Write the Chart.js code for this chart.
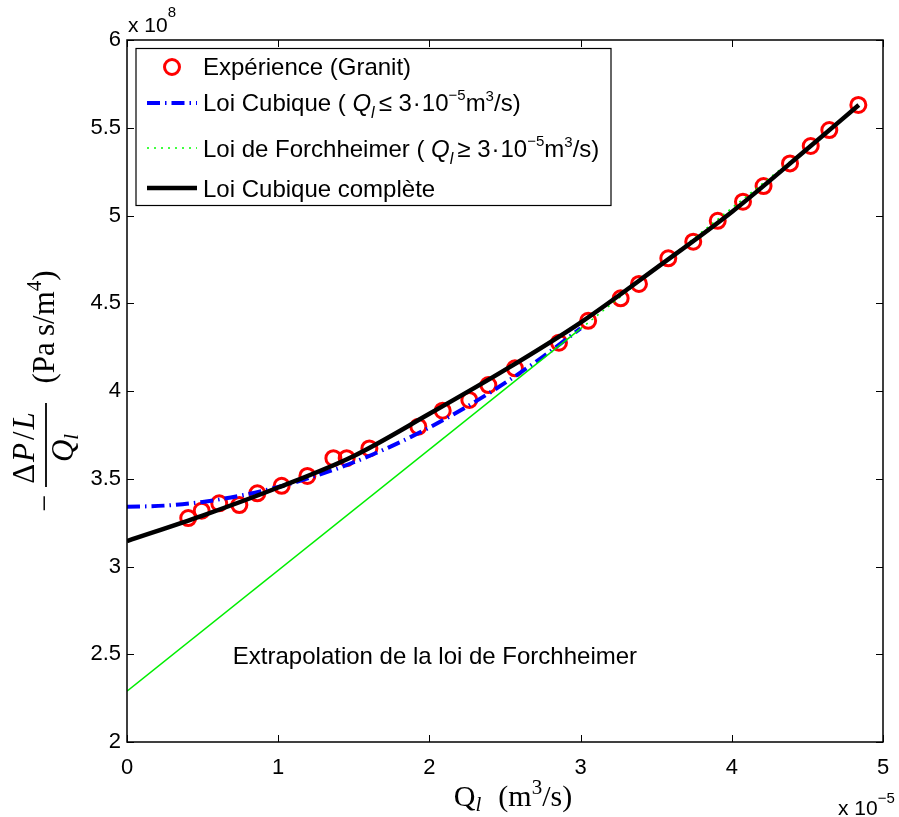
<!DOCTYPE html>
<html>
<head>
<meta charset="utf-8">
<script src="https://cdn.jsdelivr.net/npm/chart.js@4.4.1/dist/chart.umd.min.js"></script>
<style>
  html, body { margin: 0; padding: 0; background: #fff; }
  #wrap { width: 899px; height: 817px; position: relative; }
</style>
</head>
<body>
<div id="wrap"><canvas id="c" width="899" height="817"></canvas></div>
<script>
// Values in displayed units: Q in 1e-5 m^3/s, -(dP/L)/Q in 1e8 Pa s/m^4
const Q_exp   = [0.405, 0.494, 0.61, 0.743, 0.862, 1.023, 1.193, 1.365, 1.453, 1.603, 1.927, 2.088, 2.264, 2.39, 2.566, 2.857, 3.05, 3.265, 3.386, 3.58, 3.745, 3.907, 4.074, 4.21, 4.385, 4.522, 4.645, 4.837];
const R_exp   = [3.276, 3.318, 3.36, 3.35, 3.417, 3.46, 3.516, 3.617, 3.617, 3.673, 3.797, 3.888, 3.949, 4.034, 4.129, 4.275, 4.40, 4.528, 4.61, 4.756, 4.851, 4.97, 5.079, 5.168, 5.297, 5.396, 5.487, 5.63];

const Q_cub   = [0, 0.25, 0.5, 0.75, 1.0, 1.25, 1.5, 1.75, 2.0, 2.25, 2.5, 2.75, 3.0];
const R_cub   = [3.34, 3.347, 3.368, 3.404, 3.453, 3.517, 3.594, 3.686, 3.792, 3.912, 4.046, 4.195, 4.357];

const Q_forch = [3.0, 4.84];
const R_forch = [4.355, 5.62];

const Q_extra = [0, 3.0];
const R_extra = [2.29, 4.355];

const Q_full  = [0, 0.5, 1.0, 1.5, 2.0, 2.5, 3.0, 3.5, 4.0, 4.5, 4.84];
const R_full  = [3.145, 3.29, 3.45, 3.63, 3.87, 4.12, 4.39, 4.70, 5.02, 5.38, 5.63];

const X_MIN = 0, X_MAX = 5, X_STEP = 1;
const Y_MIN = 2, Y_MAX = 6, Y_STEP = 0.5;

const LEGEND_LABELS = ['Expérience (Granit)', 'Loi Cubique', 'Loi de Forchheimer', 'Loi Cubique complète'];
const ANNOTATION = 'Extrapolation de la loi de Forchheimer';

const SANS = "'Liberation Sans', Arial, Helvetica, sans-serif";
const SERIF = "'Liberation Serif', 'Times New Roman', serif";

const pts = (xs, ys) => xs.map((x, i) => ({ x: x, y: ys[i] }));

function drawParts(ctx, parts, x, y, align) {
  let total = 0;
  parts.forEach(p => { ctx.font = p.f; p.w = ctx.measureText(p.t).width + (p.gap || 0); total += p.w; });
  let cx = align === 'center' ? x - total / 2 : x;
  parts.forEach(p => { ctx.font = p.f; ctx.fillText(p.t, cx, y + (p.dy || 0)); cx += p.w; });
  return total;
}

const decorPlugin = {
  id: 'decor',
  afterDatasetsDraw(chart) {
    const ctx = chart.ctx;
    const a = chart.chartArea;
    const xs = chart.scales.x, ys = chart.scales.y;
    ctx.save();
    // annotation
    ctx.fillStyle = '#000';
    ctx.font = `24px ${SANS}`;
    ctx.textBaseline = 'middle';
    ctx.textAlign = 'left';
    ctx.fillText(ANNOTATION, xs.getPixelForValue(0.7), ys.getPixelForValue(2.48));

    // box
    ctx.strokeStyle = '#000';
    ctx.lineWidth = 1.5;
    ctx.strokeRect(a.left, a.top, a.right - a.left, a.bottom - a.top);
    // inward ticks
    const TL = 7;
    ctx.lineWidth = 1;
    ctx.beginPath();
    for (let v = X_MIN; v <= X_MAX + 1e-9; v += X_STEP) {
      const px = Math.round(xs.getPixelForValue(v)) + 0.5;
      ctx.moveTo(px, a.bottom); ctx.lineTo(px, a.bottom - TL);
      ctx.moveTo(px, a.top); ctx.lineTo(px, a.top + TL);
    }
    for (let v = Y_MIN; v <= Y_MAX + 1e-9; v += Y_STEP) {
      const py = Math.round(ys.getPixelForValue(v)) + 0.5;
      ctx.moveTo(a.left, py); ctx.lineTo(a.left + TL, py);
      ctx.moveTo(a.right, py); ctx.lineTo(a.right - TL, py);
    }
    ctx.stroke();

    // legend
    const L = { x: 136, y: 48.5, w: 475, h: 157 };
    ctx.fillStyle = '#fff';
    ctx.fillRect(L.x, L.y, L.w, L.h);
    ctx.strokeStyle = '#000';
    ctx.lineWidth = 1.2;
    ctx.strokeRect(L.x, L.y, L.w, L.h);
    ctx.textBaseline = 'alphabetic';
    ctx.fillStyle = '#000';
    const tx = 203;
    // entry 1
    ctx.strokeStyle = '#ff0000'; ctx.lineWidth = 3;
    ctx.beginPath(); ctx.arc(172, 67, 7.5, 0, Math.PI * 2); ctx.stroke();
    ctx.fillStyle = '#000';
    drawParts(ctx, [{ t: LEGEND_LABELS[0], f: `24px ${SANS}` }], tx, 75, 'left');
    // entry 2
    ctx.strokeStyle = '#0000ff'; ctx.lineWidth = 4; ctx.setLineDash([13, 5, 1.5, 5]);
    ctx.beginPath(); ctx.moveTo(147, 103); ctx.lineTo(197, 103); ctx.stroke();
    ctx.setLineDash([]);
    const cond = (sym) => [
      { t: ' ( ', f: `24px ${SANS}` },
      { t: 'Q', f: `italic 24px ${SANS}` },
      { t: 'l', f: `italic 16px ${SANS}`, dy: 7, gap: 4 },
      { t: sym + ' 3', f: `24px ${SANS}`, gap: 1 },
      { t: '·', f: `24px ${SANS}`, gap: 1 },
      { t: '10', f: `24px ${SANS}` },
      { t: '\u22125', f: `15px ${SANS}`, dy: -11 },
      { t: 'm', f: `24px ${SANS}` },
      { t: '3', f: `15px ${SANS}`, dy: -10 },
      { t: '/s)', f: `24px ${SANS}` }
    ];
    drawParts(ctx, [{ t: LEGEND_LABELS[1], f: `24px ${SANS}` }].concat(cond('\u2264')), tx, 111, 'left');
    // entry 3
    ctx.strokeStyle = '#00ff00'; ctx.lineWidth = 1.5; ctx.setLineDash([2, 5]);
    ctx.beginPath(); ctx.moveTo(147, 148); ctx.lineTo(197, 148); ctx.stroke();
    ctx.setLineDash([]);
    drawParts(ctx, [{ t: LEGEND_LABELS[2], f: `24px ${SANS}` }].concat(cond('\u2265')), tx, 157, 'left');
    // entry 4
    ctx.strokeStyle = '#000'; ctx.lineWidth = 4.5;
    ctx.beginPath(); ctx.moveTo(147, 188); ctx.lineTo(197, 188); ctx.stroke();
    drawParts(ctx, [{ t: LEGEND_LABELS[3], f: `24px ${SANS}` }], tx, 197, 'left');

    // exponent labels
    drawParts(ctx, [{ t: 'x 10', f: `21px ${SANS}` }, { t: '8', f: `15px ${SANS}`, dy: -15 }], 128, 32, 'left');
    drawParts(ctx, [{ t: 'x 10', f: `21px ${SANS}` }, { t: '\u22125', f: `15px ${SANS}`, dy: -12 }], 838, 815, 'left');

    // x axis label
    drawParts(ctx, [
      { t: 'Q', f: `30px ${SERIF}` },
      { t: 'l', f: `italic 21px ${SERIF}`, dy: 5, gap: 2 },
      { t: '\u2002(m', f: `30px ${SERIF}` },
      { t: '3', f: `21px ${SERIF}`, dy: -12 },
      { t: '/s)', f: `30px ${SERIF}` }
    ], 513, 806, 'center');

    // y axis label (rotated)
    ctx.save();
    ctx.translate(46, 445);
    ctx.rotate(-Math.PI / 2);
    drawParts(ctx, [{ t: '\u2212', f: `30px ${SERIF}` }], -58, 8, 'center');
    ctx.strokeStyle = '#000'; ctx.lineWidth = 1.8;
    ctx.beginPath(); ctx.moveTo(-42, 0); ctx.lineTo(42, 0); ctx.stroke();
    drawParts(ctx, [
      { t: '\u0394', f: `31px ${SERIF}`, gap: 2 },
      { t: 'P', f: `italic 31px ${SERIF}`, gap: 3 },
      { t: '/', f: `31px ${SERIF}`, gap: 2 },
      { t: 'L', f: `italic 31px ${SERIF}` }
    ], -3, -12, 'center');
    drawParts(ctx, [
      { t: 'Q', f: `italic 31px ${SERIF}` },
      { t: 'l', f: `italic 21px ${SERIF}`, dy: 5 }
    ], -3, 27, 'center');
    drawParts(ctx, [
      { t: '(Pa\u2009s/m', f: `31px ${SERIF}` },
      { t: '4', f: `21px ${SERIF}`, dy: -13 },
      { t: ')', f: `31px ${SERIF}` }
    ], 118, 8, 'center');
    ctx.restore();

    ctx.restore();
  }
};

const tickFont = { family: 'Liberation Sans', size: 22 };
const fmt = v => String(Math.round(v * 100) / 100);

new Chart(document.getElementById('c'), {
  type: 'scatter',
  data: {
    datasets: [
      { label: LEGEND_LABELS[3], data: pts(Q_full, R_full), showLine: true, borderColor: '#000', borderWidth: 4.5, pointRadius: 0, tension: 0.4, cubicInterpolationMode: 'monotone', fill: false },
      { label: LEGEND_LABELS[2], data: pts(Q_forch, R_forch), showLine: true, borderColor: '#00ff00', borderWidth: 1.5, borderDash: [2, 5], pointRadius: 0, fill: false },
      { label: 'extrapolation', data: pts(Q_extra, R_extra), showLine: true, borderColor: '#00ee00', borderWidth: 1.5, pointRadius: 0, fill: false },
      { label: LEGEND_LABELS[1], data: pts(Q_cub, R_cub), showLine: true, borderColor: '#0000ff', borderWidth: 4, borderDash: [13, 5, 1.5, 5], pointRadius: 0, tension: 0.4, cubicInterpolationMode: 'monotone', fill: false },
      { label: LEGEND_LABELS[0], data: pts(Q_exp, R_exp), showLine: false, borderColor: '#ff0000', backgroundColor: 'rgba(0,0,0,0)', pointBorderColor: '#ff0000', pointBackgroundColor: 'rgba(0,0,0,0)', pointRadius: 7.5, pointBorderWidth: 3, pointStyle: 'circle' }
    ]
  },
  options: {
    responsive: false,
    devicePixelRatio: 1,
    animation: false,
    layout: { padding: { top: 40, right: 16, left: 0, bottom: 0 } },
    plugins: { legend: { display: false }, tooltip: { enabled: false } },
    scales: {
      x: {
        type: 'linear', min: X_MIN, max: X_MAX,
        ticks: { stepSize: X_STEP, font: tickFont, color: '#000', padding: 13, maxRotation: 0, callback: fmt },
        grid: { display: false, drawTicks: false },
        border: { display: false },
        afterFit: s => { s.height = 75; s.paddingLeft = 0; s.paddingRight = 0; }
      },
      y: {
        type: 'linear', min: Y_MIN, max: Y_MAX,
        ticks: { stepSize: Y_STEP, font: tickFont, color: '#000', padding: 6, callback: fmt },
        grid: { display: false, drawTicks: false },
        border: { display: false },
        afterFit: s => { s.width = 127; s.paddingTop = 0; s.paddingBottom = 0; }
      }
    }
  },
  plugins: [decorPlugin]
});
</script>
</body>
</html>
